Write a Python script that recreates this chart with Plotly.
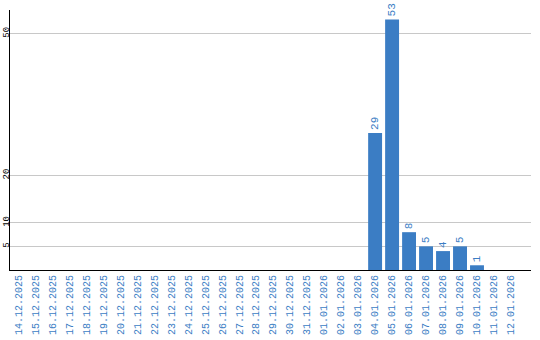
import plotly.graph_objects as go

dates = ["14.12.2025","15.12.2025","16.12.2025","17.12.2025","18.12.2025","19.12.2025",
         "20.12.2025","21.12.2025","22.12.2025","23.12.2025","24.12.2025","25.12.2025",
         "26.12.2025","27.12.2025","28.12.2025","29.12.2025","30.12.2025","31.12.2025",
         "01.01.2026","02.01.2026","03.01.2026","04.01.2026","05.01.2026","06.01.2026",
         "07.01.2026","08.01.2026","09.01.2026","10.01.2026","11.01.2026","12.01.2026"]
values = [0]*21 + [29, 53, 8, 5, 4, 5, 1, 0, 0]
ytick_vals = [5, 10, 20, 50]

blue = "#3b7dc4"
font = "Liberation Mono"

fig = go.Figure(go.Bar(
    x=list(range(len(dates))), y=values,
    text=[str(v) if v else "" for v in values],
    textposition="outside", textangle=-90,
    textfont=dict(family=font, size=11, color=blue),
    marker=dict(color=blue, line=dict(width=0)),
    cliponaxis=False,
))
fig.update_layout(
    width=540, height=340,
    margin=dict(l=10, r=9, t=10, b=70, autoexpand=False),
    plot_bgcolor="white", paper_bgcolor="white",
    bargap=0.18, showlegend=False,
    font=dict(family=font),
)
fig.update_xaxes(
    tickmode="array", tickvals=list(range(len(dates))), ticktext=dates,
    tickangle=-90, tickfont=dict(family=font, size=10, color=blue),
    range=[-0.5, 30.18], showgrid=False, showline=True, linecolor="black",
    linewidth=1, ticks="", zeroline=False, automargin=False,
)
fig.update_yaxes(
    tickmode="array", tickvals=ytick_vals, ticktext=[str(v) for v in ytick_vals],
    tickangle=-90, tickfont=dict(family=font, size=9, color="black"),
    range=[0, 55], showgrid=True, gridcolor="#c8c8c8", gridwidth=1,
    showline=True, linecolor="black", linewidth=1, ticks="", zeroline=False,
    automargin=False, ticklabelstandoff=-4,
)
fig.write_html("out.html")
